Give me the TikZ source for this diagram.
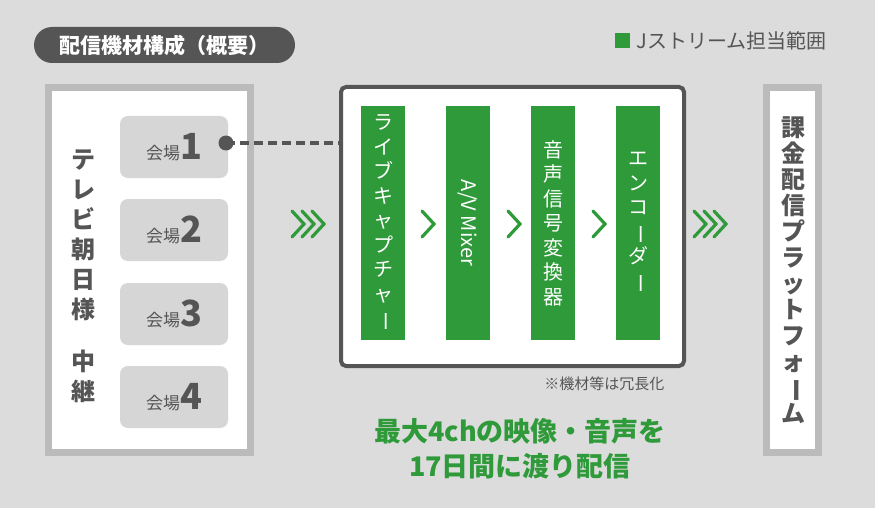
\documentclass[tikz,border=0pt]{standalone}
\usepackage{fontspec}
\usepackage{graphicx}
\setmainfont{Noto Sans CJK JP}
\usetikzlibrary{positioning}
\definecolor{bggray}{HTML}{DCDCDC}
\definecolor{darkgray}{HTML}{555555}
\definecolor{framegray}{HTML}{BBBBBB}
\definecolor{venuegray}{HTML}{D6D6D6}
\definecolor{jgreen}{HTML}{2F9A3A}
\newcommand{\vbar}{\rotatebox[origin=c]{-90}{ー}}
\tikzset{
  frame/.style={draw=framegray, line width=7pt, fill=white},
  venue/.style={fill=venuegray, rounded corners=8pt, minimum width=108pt, minimum height=62pt, text=darkgray},
  bar/.style={fill=jgreen, minimum width=44pt, minimum height=234pt, text=white, font=\fontsize{20}{24.5}\selectfont, align=center},
  chev/.style={draw=jgreen, line width=3.2pt, line cap=round, line join=miter},
  vtext/.style={align=center, text=darkgray, font=\bfseries\fontsize{24}{30}\selectfont}
}
\begin{document}
\begin{tikzpicture}[x=1pt, y=-1pt]
  \fill[bggray] (0,0) rectangle (875,508);
  \useasboundingbox (0,0) rectangle (875,508);

  % title and legend
  \node[fill=darkgray, rounded corners=18pt, minimum width=261pt, minimum height=36pt,
        text=white, font=\bfseries\fontsize{21}{21}\selectfont] (title) at (164.5,45) {配信機材構成（概要）};
  \fill[jgreen] (615,33) rectangle (630,48);
  \node[anchor=west, text=darkgray, font=\fontsize{20}{20}\selectfont] (legend) at (633,41) {Jストリーム担当範囲};

  % left frame
  \draw[frame] (48.5,87.5) rectangle (250.5,452.5);
  \node[vtext] (tv) at (83,276) {テ\\レ\\ビ\\朝\\日\\様\\[22pt]中\\継};
  \foreach \n/\y in {1/147, 2/230, 3/314, 4/397} {
    \node[venue] (v\n) at (174,\y) {{\fontsize{17}{17}\selectfont 会場}{\bfseries\fontsize{36}{36}\selectfont\n}};
  }
  \fill[darkgray] (226,143) circle (7.5pt) coordinate (dot);

  % middle frame
  \draw[draw=darkgray, line width=4pt, rounded corners=5pt, fill=white] (341,87) rectangle (684,366);
  \coordinate (mid) at (341,143);
  \draw[darkgray, line width=3.5pt, dash pattern=on 9pt off 5pt] (dot) -- (mid);
  \node[bar] (b1) at (383,223) {ラ\\イ\\ブ\\キ\\ャ\\プ\\チ\\ャ\\\vbar};
  \node[bar] (b2) at (468,223) {\rotatebox{-90}{A/V Mixer}};
  \node[bar] (b3) at (553,223) {音\\声\\信\\号\\変\\換\\器};
  \node[bar] (b4) at (638,223) {エ\\ン\\コ\\\vbar\\ダ\\\vbar};
  \node[anchor=east, text=darkgray, font=\fontsize{15}{15}\selectfont] (note) at (668,384) {※機材等は冗長化};

  % chevrons
  \foreach \x in {422, 508, 593}
    \draw[chev] (\x,211) -- +(12,13) -- +(0,26);
  \foreach \x in {292, 302, 312, 694, 704, 714}
    \draw[chev] (\x,211) -- +(12,13) -- +(0,26);

  % right frame
  \draw[frame] (766.5,87.5) rectangle (818.5,452.5);
  \node[vtext, font=\bfseries\fontsize{24}{26}\selectfont] (plat) at (793,270) {課\\金\\配\\信\\プ\\ラ\\ッ\\ト\\フ\\ォ\\\vbar\\ム};

  % caption
  \node[text=jgreen, align=center, font=\bfseries\fontsize{27}{35}\selectfont] (cap) at (520,449) {最大4chの映像・音声を\\17日間に渡り配信};
\end{tikzpicture}
\end{document}
